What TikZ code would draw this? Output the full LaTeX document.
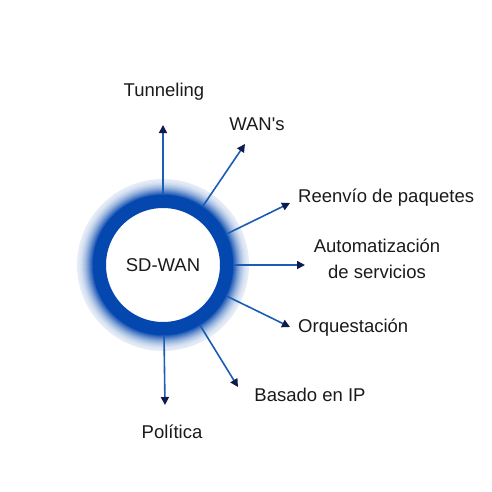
\documentclass[tikz,border=0pt]{standalone}
\usepackage{fontspec}
\setmainfont{Liberation Sans}
\usepackage{tikz}
\usetikzlibrary{arrows.meta, positioning}
\definecolor{ringblue}{HTML}{0447AE}
\definecolor{spokeblue}{HTML}{1B5CB4}
\definecolor{tipnavy}{HTML}{0E1B4D}
\definecolor{labelgray}{HTML}{1A1A1A}
\tikzset{
  spoke/.style={spokeblue, line width=1.6pt, -{Triangle[length=8pt,width=8pt,color=tipnavy]}},
  lbl/.style={text=labelgray, font=\fontsize{18.5}{22}\selectfont, inner sep=0pt},
}

\begin{document}
\begin{tikzpicture}[x=1pt,y=1pt]
        \useasboundingbox (-163,-226) rectangle (329,265);

        % Glow around the ring
        \foreach \r in {86,85,...,70}{
            \pgfmathsetmacro\pct{10+90*((86-\r)/16)^1.7}
            \fill[ringblue!\pct!white] (0,0) circle (\r pt);
        }

        % Central hub
        \node[circle, draw=ringblue, line width=13pt, fill=white, minimum size=127pt, lbl] (hub) at (0,0) {SD-WAN};

        % Arrow ends
        \coordinate (tipTun) at (0,140);
        \coordinate (tipWan) at (82,121);
        \coordinate (tipReen) at (127,62);
        \coordinate (tipAuto) at (142,0);
        \coordinate (tipOrq) at (127,-62);
        \coordinate (tipBas) at (75,-122);
        \coordinate (tipPol) at (2,-140);

        % Spokes
        \draw[spoke] (hub) -- (tipTun);
        \draw[spoke] (hub) -- (tipWan);
        \draw[spoke] (hub) -- (tipReen);
        \draw[spoke] (hub) -- (tipAuto);
        \draw[spoke] (hub) -- (tipOrq);
        \draw[spoke] (hub) -- (tipBas);
        \draw[spoke] (hub) -- (tipPol);

        % Labels
        \node[lbl] (tun) at (1,173) {Tunneling};
        \node[lbl] (wan) at (94,141) {WAN\textquotesingle s};
        \node[lbl, anchor=west] (reen) at (135,67) {Reenvío de paquetes};
        \node[lbl, align=center, font=\fontsize{18.5}{26}\selectfont] (auto) at (214,6) {Automatización\\de servicios};
        \node[lbl, anchor=west] (orq) at (135,-63) {Orquestación};
        \node[lbl] (bas) at (147,-130) {Basado en IP};
        \node[lbl] (pol) at (9,-167) {Política};
    \end{tikzpicture}
\end{document}
